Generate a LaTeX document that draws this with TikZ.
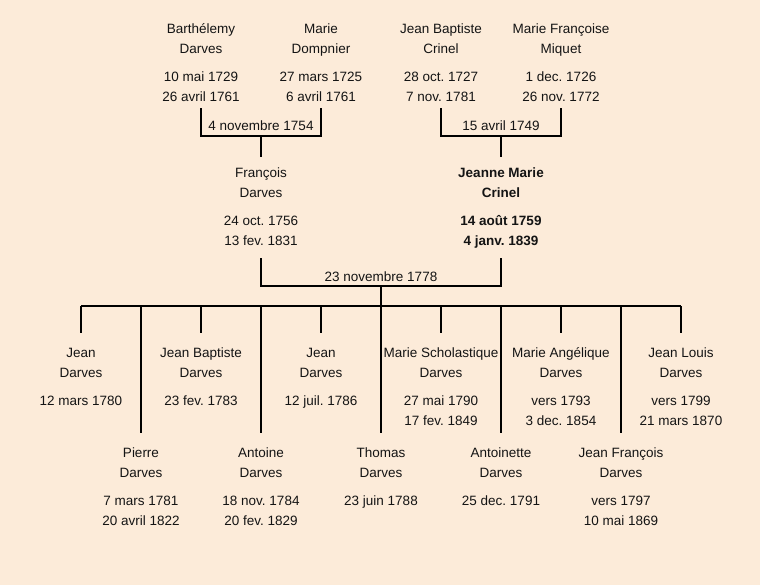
\documentclass[tikz,border=0pt]{standalone}
\usepackage{fontspec}
\setmainfont{Liberation Sans}
\frenchspacing
\definecolor{bg}{RGB}{252,235,217}
\definecolor{ink}{RGB}{20,20,20}
\begin{document}
\begin{tikzpicture}[x=1pt,y=-1pt,
  person/.style={anchor=north, inner sep=0pt, align=center, text=ink,
    font=\fontsize{13.5}{20}\selectfont},
  lbl/.style={anchor=base, inner sep=0pt, text=ink,
    font=\fontsize{13.5}{20}\selectfont},
  link/.style={line width=2pt, draw=black}]
\fill[bg] (0,0) rectangle (760,585);
\useasboundingbox (0,0) rectangle (760,585);

% grandparents
\node[person] (bd) at (201,19) {\strut Barthélemy\\Darves\\[8pt]10 mai 1729\\26 avril 1761\strut};
\node[person] (md) at (321,19) {\strut Marie\\Dompnier\\[8pt]27 mars 1725\\6 avril 1761\strut};
\node[person] (jbc) at (441,19) {\strut Jean Baptiste\\Crinel\\[8pt]28 oct. 1727\\7 nov. 1781\strut};
\node[person] (mfm) at (561,19) {\strut Marie Françoise\\Miquet\\[8pt]1 dec. 1726\\26 nov. 1772\strut};

% parents
\node[person] (fd) at (261,163) {\strut François\\Darves\\[8pt]24 oct. 1756\\13 fev. 1831\strut};
\node[person,font=\fontsize{13.5}{20}\selectfont\bfseries] (jmc) at (501,163) {\strut Jeanne Marie\\Crinel\\[8pt]14 août 1759\\4 janv. 1839\strut};

% marriage labels
\node[lbl] (w1) at (261,131) {4 novembre 1754};
\node[lbl] (w2) at (501,131) {15 avril 1749};
\node[lbl] (w3) at (381,281) {23 novembre 1778};

\coordinate (m1) at (261,136);
\coordinate (m2) at (501,136);
\coordinate (m3) at (381,286);
\coordinate (bar) at (381,306);

% children
\node[person] (c1) at (81,343) {\strut Jean\\Darves\\[8pt]12 mars 1780\strut};
\node[person] (c2) at (141,443) {\strut Pierre\\Darves\\[8pt]7 mars 1781\\20 avril 1822\strut};
\node[person] (c3) at (201,343) {\strut Jean Baptiste\\Darves\\[8pt]23 fev. 1783\strut};
\node[person] (c4) at (261,443) {\strut Antoine\\Darves\\[8pt]18 nov. 1784\\20 fev. 1829\strut};
\node[person] (c5) at (321,343) {\strut Jean\\Darves\\[8pt]12 juil. 1786\strut};
\node[person] (c6) at (381,443) {\strut Thomas\\Darves\\[8pt]23 juin 1788\strut};
\node[person] (c7) at (441,343) {\strut Marie Scholastique\\Darves\\[8pt]27 mai 1790\\17 fev. 1849\strut};
\node[person] (c8) at (501,443) {\strut Antoinette\\Darves\\[8pt]25 dec. 1791\strut};
\node[person] (c9) at (561,343) {\strut Marie Angélique\\Darves\\[8pt]vers 1793\\3 dec. 1854\strut};
\node[person] (c10) at (621,443) {\strut Jean François\\Darves\\[8pt]vers 1797\\10 mai 1869\strut};
\node[person] (c11) at (681,343) {\strut Jean Louis\\Darves\\[8pt]vers 1799\\21 mars 1870\strut};

% connectors: grandparents
\draw[link] ([yshift=-1pt]bd.south) -- (bd.south |- m1) -- (md.south |- m1) -- ([yshift=-1pt]md.south);
\draw[link] (m1) -- ([yshift=6pt]fd.north);
\draw[link] ([yshift=-1pt]jbc.south) -- (jbc.south |- m2) -- (mfm.south |- m2) -- ([yshift=-1pt]mfm.south);
\draw[link] (m2) -- ([yshift=6pt]jmc.north);

% connectors: parents
\draw[link] ([yshift=-7pt]fd.south) -- (fd.south |- m3) -- (jmc.south |- m3) -- ([yshift=-7pt]jmc.south);
\draw[link] (m3) -- (bar);
\draw[link] (c1.north |- bar) -- (c11.north |- bar);
\foreach \c in {c1,c2,c3,c4,c5,c6,c7,c8,c9,c10,c11}{
  \draw[link] (\c.north |- bar) -- ([yshift=10pt]\c.north);
}
\end{tikzpicture}
\end{document}
